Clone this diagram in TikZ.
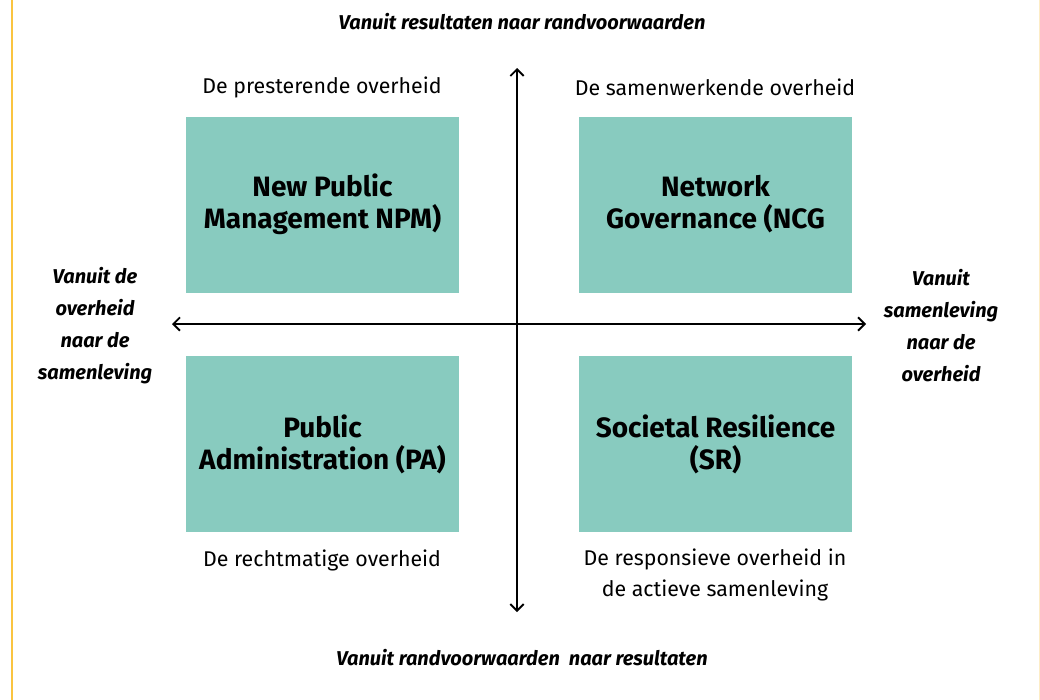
\documentclass[tikz,border=0pt]{standalone}
\usepackage{fontspec}
\setmainfont{Fira Sans}
\usetikzlibrary{positioning}
\definecolor{quadfill}{HTML}{88CBBF}
\definecolor{railyellow}{HTML}{FAC440}
\tikzset{
  quad/.style={fill=quadfill, minimum width=205pt, minimum height=132pt, align=center, font=\fontsize{21}{24}\selectfont\bfseries, inner sep=0pt},
  caption/.style={align=center, font=\fontsize{16}{23.5}\selectfont},
  axislabel/.style={align=center, font=\fontsize{15}{24}\selectfont\bfseries\itshape},
  axis/.style={line width=1.4pt, <->, >={Straight Barb[length=5pt, width=10pt]}}
}
\usetikzlibrary{arrows.meta}
\begin{document}
\begin{tikzpicture}[x=0.75pt, y=-0.75pt]
    \useasboundingbox (0,0) rectangle (1040,700);
    \draw[railyellow, line width=1.6pt] (12,0) -- (12,700);
    \draw[railyellow!30, line width=0.5pt] (1039.5,0) -- (1039.5,700);
    % quadrants
    \node[quad] (npm) at (322.5,204.5) {New Public\\Management NPM)};
    \node[quad] (ncg) at (715.5,204.5) {Network\\Governance (NCG};
    \node[quad] (pa) at (322.5,444) {Public\\Administration (PA)};
    \node[quad] (sr) at (715.5,444) {Societal Resilience\\(SR)};
    % captions
    \node[caption] (cnpm) at (322,87) {De presterende overheid};
    \node[caption] (cncg) at (715,87) {De samenwerkende overheid};
    \node[caption] (cpa) at (322,560) {De rechtmatige overheid};
    \node[caption] (csr) at (715,575) {De responsieve overheid in\\de actieve samenleving};
    % axes
    \coordinate (top) at (517,68);
    \coordinate (bottom) at (517,612);
    \coordinate (left) at (172,324);
    \coordinate (right) at (866,324);
    \draw[axis] (bottom) -- (top);
    \draw[axis] (left) -- (right);
    \node[axislabel] (ntop) at (522,22) {Vanuit resultaten naar randvoorwaarden};
    \node[axislabel] (nbottom) at (522,658) {Vanuit randvoorwaarden\ \ naar resultaten};
    \node[axislabel] (nleft) at (95,326) {Vanuit de\\overheid\\naar de\\samenleving};
    \node[axislabel] (nright) at (941,326) {Vanuit\\samenleving\\naar de\\overheid};
\end{tikzpicture}
\end{document}
